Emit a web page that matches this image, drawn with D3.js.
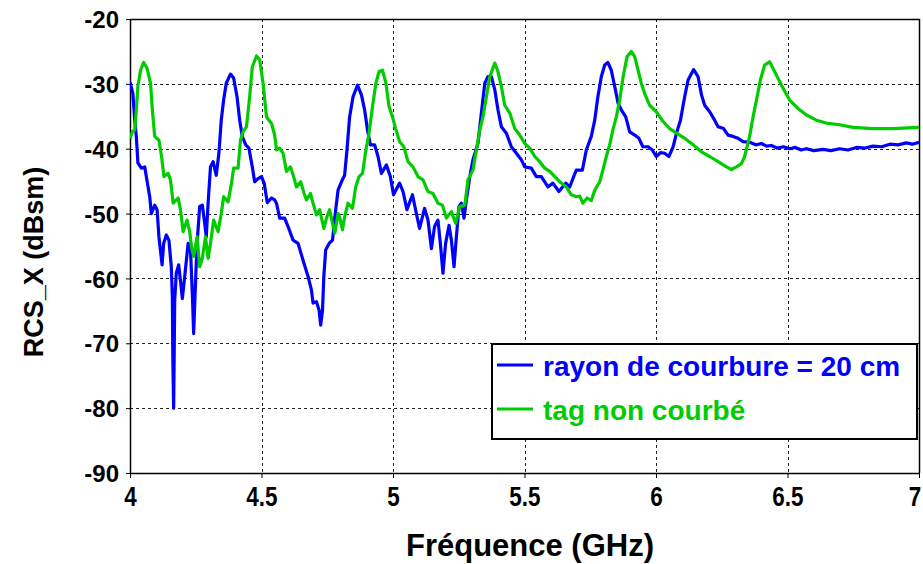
<!DOCTYPE html>
<html>
<head>
<meta charset="utf-8">
<script src="https://cdnjs.cloudflare.com/ajax/libs/d3/7.8.5/d3.min.js"></script>
<style>
  html, body { margin: 0; padding: 0; background: #fff; }
  svg { display: block; }
  text { font-family: Arial, "Liberation Sans", sans-serif; font-weight: bold; }
</style>
</head>
<body>
<svg id="chart" width="923" height="564"></svg>
<script>
// ---- data ----
const freqBlue = [4.000,4.011,4.018,4.024,4.030,4.043,4.056,4.062,4.075,4.081,4.094,4.103,4.110,4.122,4.128,4.138,4.148,4.157,4.161,4.163,4.166,4.170,4.176,4.185,4.193,4.199,4.208,4.221,4.230,4.237,4.242,4.250,4.255,4.265,4.275,4.284,4.290,4.297,4.306,4.316,4.328,4.338,4.347,4.356,4.366,4.382,4.394,4.407,4.417,4.427,4.440,4.452,4.465,4.474,4.487,4.500,4.510,4.522,4.538,4.550,4.557,4.569,4.588,4.601,4.620,4.639,4.658,4.677,4.690,4.696,4.709,4.719,4.725,4.732,4.737,4.744,4.757,4.770,4.779,4.791,4.804,4.816,4.825,4.835,4.848,4.865,4.880,4.892,4.903,4.914,4.930,4.943,4.956,4.975,4.990,5.002,5.025,5.038,5.053,5.074,5.089,5.101,5.120,5.133,5.146,5.158,5.171,5.180,5.190,5.200,5.213,5.222,5.232,5.241,5.251,5.260,5.270,5.279,5.292,5.304,5.323,5.336,5.349,5.361,5.374,5.387,5.399,5.412,5.431,5.450,5.469,5.488,5.501,5.526,5.545,5.564,5.589,5.608,5.631,5.657,5.672,5.687,5.697,5.720,5.735,5.754,5.767,5.779,5.792,5.805,5.817,5.830,5.843,5.856,5.868,5.885,5.900,5.919,5.935,5.950,5.970,5.986,6.001,6.017,6.033,6.049,6.065,6.078,6.093,6.109,6.122,6.143,6.160,6.173,6.185,6.204,6.223,6.236,6.257,6.274,6.293,6.312,6.331,6.356,6.380,6.401,6.420,6.439,6.460,6.485,6.508,6.530,6.552,6.572,6.600,6.635,6.665,6.698,6.730,6.762,6.795,6.825,6.858,6.889,6.920,6.952,6.975,7.000];
const rcsBlue = [-29.7,-31.5,-35.6,-38.1,-42.2,-43.0,-42.8,-44.3,-47.4,-50.0,-48.7,-49.4,-53.6,-57.9,-54.6,-53.3,-54.1,-58.2,-62.8,-72.6,-80.0,-63.3,-59.2,-57.9,-60.7,-63.1,-59.7,-54.6,-55.6,-62.3,-68.5,-59.7,-54.6,-48.9,-48.7,-51.5,-53.6,-48.4,-42.8,-42.0,-44.1,-40.7,-35.6,-32.5,-29.9,-28.5,-29.1,-32.0,-35.6,-38.1,-39.4,-39.9,-42.8,-45.1,-44.6,-44.3,-45.3,-48.3,-47.6,-47.9,-48.4,-50.7,-50.7,-52.0,-54.1,-54.6,-57.2,-59.7,-61.8,-63.8,-63.6,-64.9,-67.2,-64.9,-59.7,-55.6,-54.6,-54.1,-50.5,-46.4,-45.1,-44.1,-40.2,-35.1,-32.0,-30.2,-31.7,-34.0,-37.1,-39.4,-39.4,-41.2,-43.8,-42.5,-44.3,-47.1,-45.3,-46.6,-49.4,-47.1,-50.0,-52.3,-49.2,-51.0,-55.4,-52.0,-51.0,-54.6,-59.2,-54.6,-51.8,-54.1,-58.2,-53.6,-48.9,-48.4,-50.7,-47.9,-44.3,-41.7,-39.2,-34.5,-29.9,-28.9,-28.9,-30.9,-34.0,-36.6,-37.6,-39.7,-40.7,-41.7,-42.8,-43.0,-44.3,-44.3,-45.9,-45.3,-46.6,-45.3,-45.9,-44.3,-43.3,-43.3,-40.2,-38.1,-35.6,-32.0,-28.9,-27.1,-26.7,-27.9,-30.4,-33.0,-34.0,-35.1,-37.4,-37.9,-38.4,-39.7,-39.7,-40.2,-41.2,-40.6,-40.7,-41.2,-39.7,-37.6,-35.6,-32.0,-29.4,-27.8,-28.9,-31.7,-33.3,-34.3,-35.6,-36.6,-36.9,-37.9,-38.1,-38.4,-38.9,-39.0,-39.4,-39.2,-39.6,-39.5,-39.9,-39.7,-40.0,-39.8,-40.2,-40.0,-40.3,-40.1,-40.3,-40.0,-40.2,-39.8,-39.9,-39.6,-39.7,-39.3,-39.4,-39.1,-39.3,-39.0];

const freqGreen = [4.000,4.009,4.018,4.024,4.030,4.040,4.052,4.065,4.078,4.085,4.094,4.110,4.120,4.129,4.145,4.154,4.164,4.183,4.192,4.202,4.217,4.227,4.235,4.242,4.255,4.265,4.275,4.287,4.297,4.306,4.318,4.335,4.347,4.356,4.373,4.386,4.394,4.411,4.420,4.430,4.443,4.455,4.465,4.481,4.493,4.506,4.519,4.538,4.550,4.557,4.569,4.582,4.595,4.610,4.622,4.633,4.649,4.662,4.671,4.686,4.696,4.709,4.721,4.737,4.747,4.759,4.770,4.779,4.791,4.797,4.808,4.816,4.829,4.846,4.858,4.871,4.884,4.897,4.909,4.922,4.935,4.947,4.960,4.973,4.985,4.998,5.010,5.025,5.041,5.057,5.076,5.095,5.114,5.133,5.152,5.171,5.188,5.203,5.222,5.238,5.254,5.273,5.285,5.304,5.317,5.330,5.342,5.355,5.368,5.387,5.399,5.412,5.425,5.444,5.463,5.482,5.501,5.520,5.539,5.558,5.577,5.596,5.615,5.634,5.659,5.678,5.697,5.710,5.722,5.738,5.754,5.767,5.786,5.798,5.811,5.824,5.836,5.849,5.862,5.875,5.890,5.906,5.919,5.932,5.944,5.957,5.976,6.001,6.027,6.052,6.078,6.109,6.141,6.173,6.204,6.236,6.268,6.287,6.306,6.325,6.337,6.356,6.369,6.382,6.397,6.413,6.432,6.451,6.477,6.508,6.540,6.572,6.610,6.654,6.698,6.749,6.825,6.901,7.000];
const rcsGreen = [-38.4,-37.4,-37.1,-34.0,-30.4,-27.9,-26.7,-27.6,-29.9,-34.0,-38.1,-38.7,-41.2,-44.3,-43.8,-44.8,-48.4,-47.6,-49.4,-52.8,-51.0,-52.8,-55.4,-56.6,-53.6,-58.2,-56.9,-53.6,-56.9,-54.6,-51.0,-52.8,-50.0,-47.4,-48.2,-45.3,-43.0,-43.0,-38.7,-37.4,-36.6,-32.0,-27.4,-25.7,-26.3,-29.9,-35.1,-36.1,-37.9,-40.2,-39.9,-40.7,-43.5,-42.8,-44.3,-45.9,-45.1,-46.9,-47.9,-46.9,-48.4,-50.2,-49.4,-52.3,-50.7,-49.4,-51.5,-53.0,-50.0,-50.5,-52.5,-50.5,-48.4,-49.2,-45.9,-44.3,-43.8,-40.2,-37.6,-33.5,-29.9,-28.1,-27.9,-29.9,-33.5,-35.1,-36.9,-38.9,-39.7,-42.0,-42.8,-44.3,-44.8,-46.6,-46.9,-48.4,-48.7,-50.7,-49.7,-51.5,-48.9,-48.7,-44.8,-43.3,-40.2,-37.1,-35.1,-32.0,-28.9,-26.8,-28.1,-30.4,-33.3,-34.5,-36.9,-37.9,-39.2,-39.9,-41.2,-42.0,-43.0,-43.5,-44.3,-45.1,-45.9,-47.1,-47.4,-47.3,-48.4,-47.6,-48.0,-46.4,-45.1,-43.3,-41.2,-39.4,-37.1,-35.1,-32.5,-28.9,-25.8,-25.0,-25.8,-27.9,-29.9,-31.5,-33.3,-34.3,-35.8,-36.9,-37.6,-38.4,-39.4,-40.5,-41.2,-42.0,-42.8,-43.2,-42.8,-42.3,-41.2,-38.1,-35.1,-32.5,-29.4,-27.1,-26.6,-28.1,-30.2,-32.5,-33.8,-34.8,-35.6,-36.1,-36.3,-36.7,-36.9,-36.9,-36.7];

const xTicks = [4, 4.5, 5, 5.5, 6, 6.5, 7];
const yTicks = [-20, -30, -40, -50, -60, -70, -80, -90];
const seriesNames = ["rayon de courbure = 20 cm", "tag non courbé"];
const seriesColors = ["#0000ff", "#00cc00"];
const xTitle = "Fréquence (GHz)";
const yTitle = "RCS_X (dBsm)";

// ---- layout ----
const svg = d3.select("#chart");
const L = 130, R = 919, T = 19, B = 473;
const x = d3.scaleLinear().domain([4, 7]).range([L, R]);
const y = d3.scaleLinear().domain([-90, -20]).range([B, T]);

svg.append("rect").attr("width", 923).attr("height", 564).attr("fill", "#fff");

// grid
const grid = svg.append("g").attr("stroke", "#222").attr("stroke-width", 1).attr("stroke-dasharray", "3,3");
xTicks.filter(v => v > 4 && v < 7).forEach(v => {
  grid.append("line").attr("x1", Math.round(x(v)) + 0.5).attr("x2", Math.round(x(v)) + 0.5)
    .attr("y1", T).attr("y2", B);
});
yTicks.filter(v => v > -90 && v < -20).forEach(v => {
  grid.append("line").attr("y1", Math.round(y(v)) + 0.5).attr("y2", Math.round(y(v)) + 0.5)
    .attr("x1", L).attr("x2", R);
});

// frame top/right
svg.append("line").attr("x1", L).attr("x2", R + 1).attr("y1", T + 0.5).attr("y2", T + 0.5).attr("stroke", "#000").attr("stroke-width", 1.5);
svg.append("line").attr("x1", R + 0.5).attr("x2", R + 0.5).attr("y1", T).attr("y2", B).attr("stroke", "#000").attr("stroke-width", 1.5);

// axes
const xAxis = svg.append("g").attr("transform", `translate(0,${B})`)
  .call(d3.axisBottom(x).tickValues(xTicks).tickFormat(d => String(d)).tickSize(5).tickSizeOuter(0));
xAxis.select(".domain").attr("stroke", "#000").attr("stroke-width", 1.5);
xAxis.selectAll(".tick line").attr("stroke", "#000");
xAxis.selectAll("text").attr("fill", "#000").attr("dy", null).attr("y", 0)
  .attr("transform", "translate(0,33) scale(0.9,1.12)").attr("font-size", 25)
  .attr("text-anchor", d => d === 7 ? "end" : "middle")
  .attr("x", d => d === 7 ? 2 : 0);

const yAxis = svg.append("g").attr("transform", `translate(${L},0)`)
  .call(d3.axisLeft(y).tickValues(yTicks).tickFormat(d => String(d)).tickSize(4).tickSizeOuter(0));
yAxis.select(".domain").attr("stroke", "#000").attr("stroke-width", 1.5);
yAxis.selectAll(".tick line").attr("stroke", "#000");
yAxis.selectAll("text").attr("font-size", 24).attr("fill", "#000").attr("x", -11).attr("dy", "0.36em");

// lines
const clip = svg.append("clipPath").attr("id", "plotclip").append("rect")
  .attr("x", L).attr("y", T).attr("width", R - L).attr("height", B - T);
const line = d3.line().x(d => x(d[0])).y(d => y(d[1]));
const blueData = freqBlue.map((f, i) => [f, rcsBlue[i]]);
const greenData = freqGreen.map((f, i) => [f, rcsGreen[i]]);
const lg = svg.append("g").attr("clip-path", "url(#plotclip)");
lg.append("path").datum(blueData).attr("d", line).attr("fill", "none")
  .attr("stroke", seriesColors[0]).attr("stroke-width", 3.2).attr("stroke-linejoin", "round");
lg.append("path").datum(greenData).attr("d", line).attr("fill", "none")
  .attr("stroke", seriesColors[1]).attr("stroke-width", 3.2).attr("stroke-linejoin", "round");

// legend
const leg = svg.append("g");
leg.append("rect").attr("x", 492).attr("y", 344).attr("width", 425).attr("height", 95)
  .attr("fill", "#fff").attr("stroke", "#000").attr("stroke-width", 2);
seriesNames.forEach((name, i) => {
  const ly = 365 + i * 44;
  leg.append("line").attr("x1", 497).attr("x2", 533).attr("y1", ly).attr("y2", ly)
    .attr("stroke", seriesColors[i]).attr("stroke-width", 3);
  leg.append("text").attr("x", 543).attr("y", ly + 11).attr("font-size", 28)
    .attr("fill", seriesColors[i]).text(name);
});

// titles
svg.append("text").attr("x", 530).attr("y", 556).attr("text-anchor", "middle")
  .attr("font-size", 31).attr("fill", "#000").text(xTitle);
svg.append("text").attr("transform", "translate(43,262) rotate(-90)").attr("text-anchor", "middle")
  .attr("font-size", 27).attr("fill", "#000").text(yTitle);
</script>
</body>
</html>
